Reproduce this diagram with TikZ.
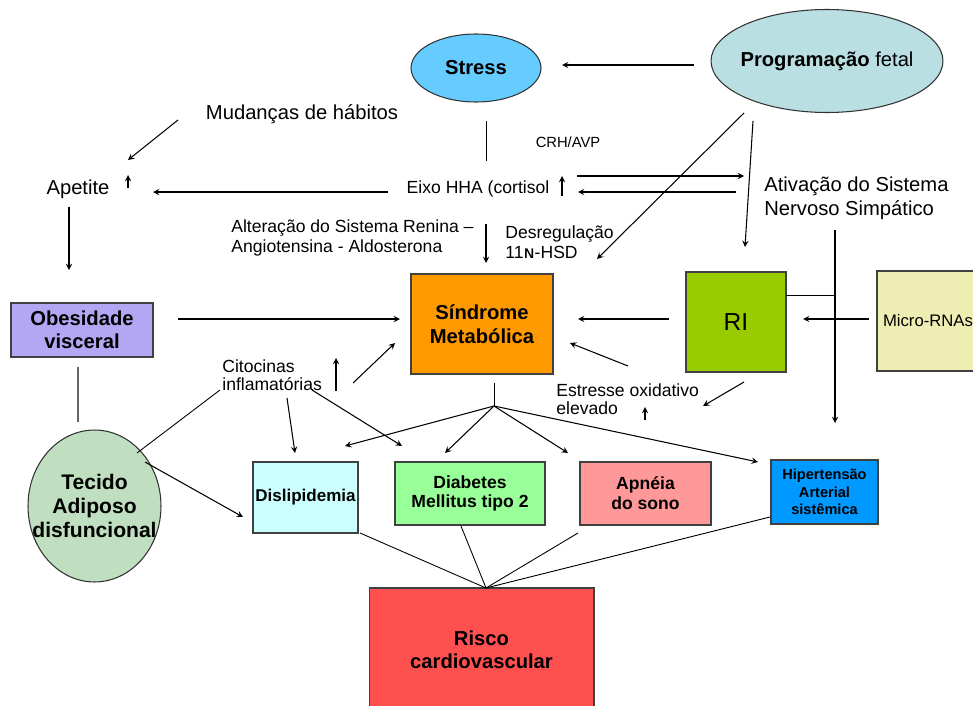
\documentclass[tikz,border=0pt]{standalone}
\usepackage{fontspec}
\setmainfont{Liberation Sans}
\newfontfamily\dejavu{DejaVu Sans}
\usepackage{tikz}
\usetikzlibrary{shapes.geometric, arrows}
\usepackage{xcolor}

\definecolor{stressblue}{HTML}{66CCFF}
\definecolor{progteal}{HTML}{B9DFE3}
\definecolor{obesviolet}{HTML}{B3A6F2}
\definecolor{sindorange}{HTML}{FF9900}
\definecolor{tecgreen}{HTML}{C0DEC0}
\definecolor{rigreen}{HTML}{99CC00}
\definecolor{microyellow}{HTML}{EEEDB4}
\definecolor{dislcyan}{HTML}{CCFFFF}
\definecolor{diabgreen}{HTML}{99FF99}
\definecolor{apnpink}{HTML}{FF9999}
\definecolor{hipblue}{HTML}{0099FF}
\definecolor{riscored}{HTML}{FF5050}

\newcommand{\fsz}[2]{\fontsize{#1}{#2}\selectfont}

\tikzstyle{arrow} = [->,>=stealth,line width=0.6pt]
\tikzstyle{link} = [line width=0.5pt]
\tikzstyle{box} = [draw=black!75,line width=0.6pt,align=center,inner sep=0pt]
\tikzstyle{oval} = [ellipse,draw=black!80,line width=0.6pt,align=center,inner sep=0pt]
\tikzstyle{txt} = [align=left,inner sep=0pt]

\begin{document}
\begin{tikzpicture}[x=0.02cm,y=-0.02cm]
		\useasboundingbox (0,0) rectangle (973,706);

		% ovals
		\node[oval,fill=stressblue,minimum width=2.6cm,minimum height=1.36cm,font=\fsz{11.5}{13.5}\bfseries] (stress) at (476,68) {Stress};
		\node[oval,fill=progteal,inner xsep=-3.5pt,minimum width=4.64cm,minimum height=2.06cm,font=\fsz{11.5}{13.5}] (prog) at (827,61) {\textbf{Programação} fetal};
		\node[oval,fill=tecgreen,inner xsep=-9pt,minimum width=2.66cm,minimum height=3.04cm,font=\fsz{12}{13.8}\bfseries] (tecido) at (94.5,506) {Tecido\\Adiposo\\disfuncional};

		% boxes
		\node[box,fill=obesviolet,minimum width=2.84cm,minimum height=1.08cm,font=\fsz{11.5}{13}\bfseries] (obes) at (82,330) {Obesidade\\visceral};
		\node[box,fill=sindorange,minimum width=2.84cm,minimum height=2cm,font=\fsz{11.5}{13.6}\bfseries] (sind) at (482,324) {Síndrome\\Metabólica};
		\node[box,fill=rigreen,minimum width=2cm,minimum height=2cm,font=\fsz{14}{16}] (ri) at (736,322) {RI};
		\node[box,fill=microyellow,minimum width=2.46cm,minimum height=2cm,text width=2.22cm,inner xsep=0.1cm,align=left,font=\fsz{9.5}{12}] (micro) at (938.5,321) {Micro-RNAs};
		\node[box,fill=dislcyan,minimum width=2.1cm,minimum height=1.42cm,font=\fsz{9.7}{11}\bfseries] (disl) at (305.5,497.5) {Dislipidemia};
		\node[box,fill=diabgreen,minimum width=3cm,minimum height=1.26cm,font=\fsz{10}{11.3}\bfseries] (diab) at (470,493.5) {Diabetes\\Mellitus tipo 2};
		\node[box,fill=apnpink,minimum width=2.62cm,minimum height=1.26cm,font=\fsz{10}{11.3}\bfseries] (apn) at (645.5,493.5) {Apnéia\\do sono};
		\node[box,fill=hipblue,minimum width=2.14cm,minimum height=1.28cm,font=\fsz{8.3}{9.9}\bfseries] (hip) at (824.5,492) {Hipertensão\\Arterial\\sistêmica};
		\node[box,fill=riscored,minimum width=4.5cm,minimum height=2.48cm,font=\fsz{11.5}{13}\bfseries] (risco) at (481.5,650) {Risco\\cardiovascular};

		% plain texts
		\node[txt,font=\fsz{11.5}{13.5}] (mud) at (302,114) {Mudanças de hábitos};
		\node[txt,font=\fsz{11.5}{13.5}] (apet) at (78,189) {Apetite};
		\node[txt,font=\fsz{10}{12}] (eixo) at (478,189) {Eixo HHA (cortisol};
		\node[txt,font=\fsz{8.4}{10}] (crh) at (568,142) {CRH/AVP};
		\node[txt,anchor=west,font=\fsz{11.5}{13.6}] (ativ) at (764,198) {Ativação do Sistema\\Nervoso Simpático};
		\node[txt,anchor=west,font=\fsz{10}{11.3}] (alt) at (231,238) {Alteração do Sistema Renina –\\Angiotensina - Aldosterona};
		\node[txt,anchor=west,font=\fsz{10}{11.3}] (desr) at (505,242) {Desregulação\\11{\dejavu ɴ}-HSD};
		\node[txt,anchor=west,font=\fsz{10}{10.5}] (cit) at (222,375) {Citocinas\\inflamatórias};
		\node[txt,anchor=west,font=\fsz{10}{10.3}] (estr) at (556,399) {Estresse oxidativo\\elevado};

		% connector ends
		\coordinate (progW) at (694,65);
		\coordinate (stressE) at (562,65);
		\coordinate (mudA) at (178,120);
		\coordinate (apetB) at (128,160);
		\coordinate (eixoW) at (388,192);
		\coordinate (apetE) at (153,192);
		\coordinate (stressS) at (486,121);
		\coordinate (eixoN) at (486,161);
		\coordinate (eixoE1) at (577,176);
		\coordinate (ativW1) at (744,176);
		\coordinate (ativW2) at (736,192);
		\coordinate (eixoE2) at (578,192);
		\coordinate (progS1) at (753,121);
		\coordinate (riN) at (745,247);
		\coordinate (progS2) at (744,113);
		\coordinate (sindNE) at (597,259);
		\coordinate (eixoS) at (486,224);
		\coordinate (sindN) at (486,263);
		\coordinate (apetS) at (69,207);
		\coordinate (obesN) at (69,270);
		\coordinate (obesE) at (178,319);
		\coordinate (sindW) at (400,319);
		\coordinate (obesS) at (78,367);
		\coordinate (tecN) at (78,422);
		\coordinate (riW) at (669,319);
		\coordinate (sindE) at (578,319);
		\coordinate (microW) at (869,319);
		\coordinate (riE) at (803,319);
		\coordinate (ativS) at (835,230);
		\coordinate (hipN) at (835,423);
		\coordinate (riNE) at (786,295);
		\coordinate (ativJ) at (835,295);
		\coordinate (estrN) at (628,366);
		\coordinate (sindSE) at (570,343);
		\coordinate (riS) at (744,382);
		\coordinate (estrE) at (703,406);
		\coordinate (citE) at (353,383);
		\coordinate (sindSW) at (395,343);
		\coordinate (tecNE) at (137,453);
		\coordinate (citW) at (220,390);
		\coordinate (tecE) at (145,462);
		\coordinate (dislW) at (243,517);
		\coordinate (citS1) at (287,398);
		\coordinate (dislN) at (295,453);
		\coordinate (citS2) at (312,390);
		\coordinate (diabNW) at (402,446);
		\coordinate (sindS) at (494,383);
		\coordinate (fan) at (494,406);
		\coordinate (dislNE) at (345,446);
		\coordinate (diabN) at (445,453);
		\coordinate (apnN) at (568,453);
		\coordinate (hipNW) at (758,462);
		\coordinate (riscoN) at (486,588);
		\coordinate (dislSE) at (360,533);
		\coordinate (diabS) at (461,526);
		\coordinate (apnSW) at (578,533);
		\coordinate (hipSW) at (770,517);

		% connectors
		\draw[arrow] (progW) -- (stressE);
		\draw[arrow] (mudA) -- (apetB);
		\draw[arrow] (eixoW) -- (apetE);
		\draw[link] (stressS) -- (eixoN);
		\draw[arrow] (eixoE1) -- (ativW1);
		\draw[arrow] (ativW2) -- (eixoE2);
		\draw[arrow] (progS1) -- (riN);
		\draw[arrow] (progS2) -- (sindNE);
		\draw[arrow] (eixoS) -- (sindN);
		\draw[arrow] (apetS) -- (obesN);
		\draw[arrow] (obesE) -- (sindW);
		\draw[link,black!60,line width=0.8pt] (obesS) -- (tecN);
		\draw[arrow] (riW) -- (sindE);
		\draw[arrow] (microW) -- (riE);
		\draw[arrow] (ativS) -- (hipN);
		\draw[link] (riNE) -- (ativJ);
		\draw[arrow] (estrN) -- (sindSE);
		\draw[arrow] (riS) -- (estrE);
		\draw[arrow] (citE) -- (sindSW);
		\draw[link] (tecNE) -- (citW);
		\draw[arrow] (tecE) -- (dislW);
		\draw[arrow] (citS1) -- (dislN);
		\draw[arrow] (citS2) -- (diabNW);
		\draw[link] (sindS) -- (fan);
		\foreach \t in {dislNE,diabN,apnN,hipNW}
			\draw[arrow] (fan) -- (\t);
		\foreach \s in {dislSE,diabS,apnSW,hipSW}
			\draw[link] (\s) -- (riscoN);

		% small "up" marks
		\draw[arrow] (128,188) -- (128,175);
		\draw[arrow] (562,196) -- (562,176);
		\draw[arrow] (336,391) -- (336,358);
		\draw[arrow] (645,420) -- (645,407);
	\end{tikzpicture}
\end{document}
